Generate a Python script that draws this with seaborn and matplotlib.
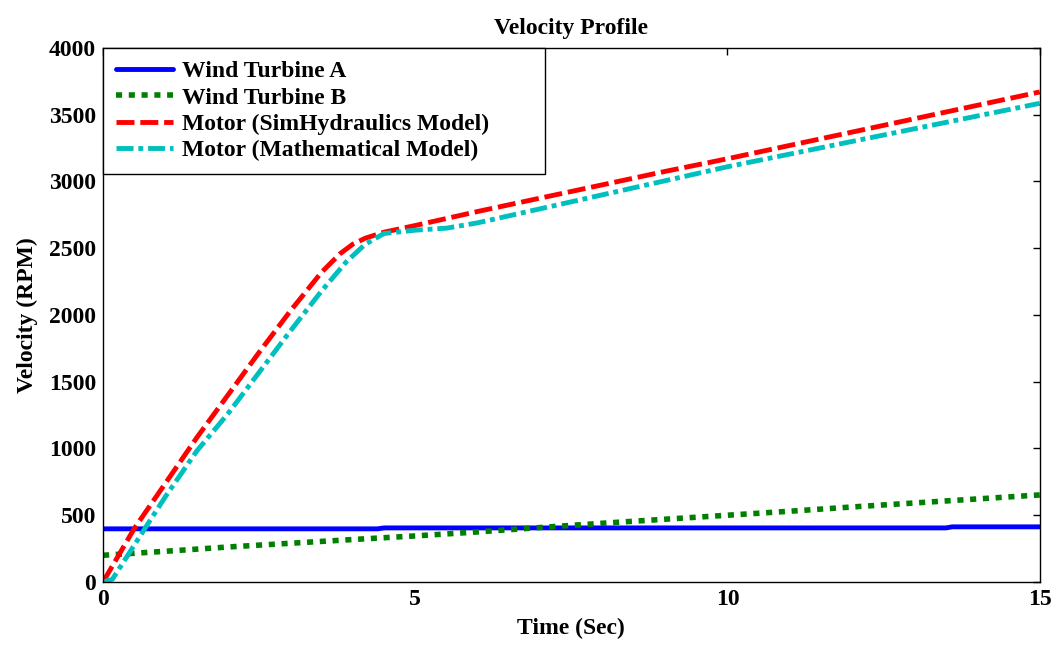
import matplotlib
matplotlib.use("Agg")
import matplotlib.pyplot as plt
import seaborn as sns
import pandas as pd

# ---- data ----
t_wind_a = [0, 4.4, 4.5, 13.5, 13.6, 15]
wind_a = [398, 398, 405, 405, 413, 413]

t_wind_b = [0, 1, 2, 3, 4, 5, 6, 7, 8, 9, 10, 11, 12, 13, 14, 15]
wind_b = [200, 230, 262, 290, 318, 345, 375, 408, 440, 470, 500, 530, 562, 592, 622, 652]

t_sim = [0, 0.5, 1.0, 1.5, 2.0, 2.5, 3.0, 3.5, 3.8, 4.0, 4.2, 4.5, 5.0,
         6, 7, 8, 9, 10, 11, 12, 13, 14, 15]
motor_sim = [0, 400, 740, 1080, 1400, 1720, 2030, 2320, 2460, 2530, 2575, 2620, 2670,
             2775, 2875, 2975, 3075, 3170, 3270, 3370, 3470, 3570, 3670]

t_math = [0, 0.15, 0.67, 1.0, 1.5, 2.0, 2.5, 3.0, 3.5, 3.9, 4.2, 4.5, 5.0, 5.5,
          6.0, 7, 8, 9, 10, 11, 12, 13, 14, 15]
motor_math = [0, 20, 400, 640, 980, 1260, 1570, 1880, 2180, 2400, 2530, 2610, 2635, 2650,
              2690, 2795, 2900, 3005, 3110, 3205, 3300, 3395, 3490, 3585]

labels = ["Wind Turbine A", "Wind Turbine B",
          "Motor (SimHydraulics Model)", "Motor (Mathematical Model)"]
title = "Velocity Profile"
xlabel = "Time (Sec)"
ylabel = "Velocity (RPM)"

# ---- style ----
sns.set_theme(style="white")
plt.rcParams["font.family"] = ["Liberation Serif", "DejaVu Serif"]
plt.rcParams["font.weight"] = "bold"
plt.rcParams["text.color"] = "black"
plt.rcParams["axes.labelcolor"] = "black"
plt.rcParams["xtick.color"] = "black"
plt.rcParams["ytick.color"] = "black"

FS = 17

fig = plt.figure(figsize=(10.62, 6.45), dpi=100)
ax = fig.add_axes([0.097, 0.0977, 0.882, 0.828])

series = [
    (t_wind_a, wind_a, "#0000ff", "-", 3.5),
    (t_wind_b, wind_b, "#008000", (0, (1.1, 1.2)), 4.0),
    (t_sim, motor_sim, "#ff0000", (0, (3.7, 1.2)), 3.5),
    (t_math, motor_math, "#00bfbf", (0, (3.5, 1.0, 1.0, 1.0)), 3.5),
]

for (tx, vy, col, ls, lw), lab in zip(series, labels):
    df = pd.DataFrame({"t": tx, "v": vy})
    sns.lineplot(data=df, x="t", y="v", ax=ax, color=col, linestyle=ls,
                 linewidth=lw, label=lab, estimator=None, sort=False)

ax.set_xlim(0, 15)
ax.set_ylim(0, 4000)
ax.set_xticks([0, 5, 10, 15])
ax.set_yticks(range(0, 4001, 500))
ax.tick_params(direction="in", length=5, width=1, top=True, right=True,
               labelsize=FS, colors="black", pad=5)
for lbl in ax.get_xticklabels() + ax.get_yticklabels():
    lbl.set_fontweight("bold")
for s in ax.spines.values():
    s.set_color("black")
    s.set_linewidth(1.0)

ax.set_title(title, fontsize=FS, fontweight="bold", pad=10, color="black")
ax.set_xlabel(xlabel, fontsize=FS, fontweight="bold", labelpad=6, color="black")
ax.set_ylabel(ylabel, fontsize=FS, fontweight="bold", labelpad=8, color="black")

leg = ax.legend(loc="upper left", bbox_to_anchor=(0, 1, 0.472, 0), mode="expand",
                borderaxespad=0, fancybox=False, frameon=True, handlelength=2.4,
                prop={"size": FS, "weight": "bold"}, labelspacing=0.2,
                borderpad=0.55, handletextpad=0.4)
leg.get_frame().set_edgecolor("black")
leg.get_frame().set_linewidth(1.0)
leg.get_frame().set_alpha(1.0)
for txt in leg.get_texts():
    txt.set_color("black")

fig.savefig("out.png", dpi=100)
